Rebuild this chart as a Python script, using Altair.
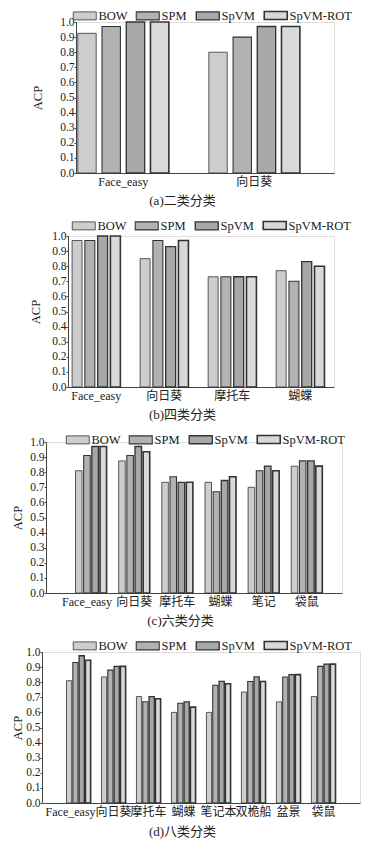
import altair as alt
import pandas as pd

FONT = "Liberation Serif, Noto Sans CJK SC"

methods = ["BOW", "SPM", "SpVM", "SpVM-ROT"]
fills = ["#cdcdcd", "#b2b2b2", "#a8a8a8", "#d9d9d9"]
stroke_widths = [0.8, 1.6, 1.0, 0.8]

# (a) two-class
cats_a = ["Face_easy", "向日葵"]
bow_a = [0.925, 0.80]
spm_a = [0.97, 0.90]
spvm_a = [1.0, 0.97]
rot_a = [1.0, 0.97]

# (b) four-class
cats_b = ["Face_easy", "向日葵", "摩托车", "蝴蝶"]
bow_b = [0.97, 0.85, 0.73, 0.77]
spm_b = [0.97, 0.97, 0.73, 0.70]
spvm_b = [1.0, 0.93, 0.73, 0.83]
rot_b = [1.0, 0.97, 0.73, 0.80]

# (c) six-class
cats_c = ["Face_easy", "向日葵", "摩托车", "蝴蝶", "笔记", "袋鼠"]
bow_c = [0.81, 0.875, 0.733, 0.733, 0.70, 0.84]
spm_c = [0.91, 0.91, 0.77, 0.67, 0.81, 0.875]
spvm_c = [0.97, 0.97, 0.733, 0.745, 0.84, 0.875]
rot_c = [0.97, 0.935, 0.733, 0.77, 0.81, 0.84]

# (d) eight-class
cats_d = ["Face_easy", "向日葵", "摩托车", "蝴蝶", "笔记本", "双桅船", "盆景", "袋鼠"]
bow_d = [0.81, 0.835, 0.705, 0.60, 0.60, 0.735, 0.67, 0.705]
spm_d = [0.93, 0.88, 0.67, 0.66, 0.78, 0.805, 0.835, 0.905]
spvm_d = [0.975, 0.905, 0.705, 0.67, 0.805, 0.835, 0.85, 0.92]
rot_d = [0.945, 0.905, 0.69, 0.635, 0.79, 0.805, 0.85, 0.92]

yticks = [0.0, 0.1, 0.2, 0.3, 0.4, 0.5, 0.6, 0.7, 0.8, 0.9, 1.0]
H = 151
SYM = "M-1,-0.8H3.6V0.8H-1Z"
INDEP = dict(color="independent", x="independent", xOffset="independent",
             strokeWidth="independent")


def panel(cats, series, caption, width, pi, po, align, legend_x, legend_y,
          title_pad, cap_x, cap_y, off_pi, first_shift):
    rows = []
    for i, c in enumerate(cats):
        for m, arr in zip(methods, series):
            rows.append({"cat": c, "method": m, "acp": arr[i]})
    df = pd.DataFrame(rows)
    n = len(cats)
    step = width / (n - pi + 2 * po)
    bw = step * (1 - pi)
    label_offset = {"condition": {"test": "datum.value === 'Face_easy'",
                                  "value": first_shift}, "value": 0}
    return alt.Chart(df).mark_bar(stroke="#333333").encode(
        x=alt.X("cat:N", sort=cats,
                scale=alt.Scale(paddingInner=pi, paddingOuter=po, align=align),
                axis=alt.Axis(title=caption, labelAngle=0, ticks=False,
                              labelOffset=label_offset,
                              labelFont=FONT, labelFontSize=12, labelColor="#222222",
                              labelPadding=3, domainColor="#444444",
                              titleFont=FONT, titleFontSize=13, titleFontWeight="normal",
                              titleColor="#222222", titleX=cap_x, titleY=cap_y,
                              titleAlign="center", titleBaseline="middle")),
        xOffset=alt.XOffset("method:N", sort=methods,
                            scale=alt.Scale(range=[0, bw], paddingInner=off_pi,
                                            paddingOuter=0)),
        y=alt.Y("acp:Q",
                scale=alt.Scale(domain=[0, 1], nice=False),
                axis=alt.Axis(title="ACP", values=yticks, format=".1f", grid=False,
                              tickSize=2, labelPadding=0,
                              tickColor="#444444", domainColor="#444444",
                              labelFont=FONT, labelFontSize=11.5, labelColor="#222222",
                              titleFont=FONT, titleFontSize=12.5, titleFontWeight="normal",
                              titleColor="#222222", titlePadding=title_pad)),
        color=alt.Color("method:N", sort=methods,
                        scale=alt.Scale(domain=methods, range=fills),
                        legend=alt.Legend(orient="none", legendX=legend_x, legendY=legend_y,
                                          direction="horizontal", title=None,
                                          symbolType=SYM, symbolSize=100,
                                          symbolStrokeColor="#333333", symbolStrokeWidth=1,
                                          labelFont=FONT, labelFontSize=12.5,
                                          labelColor="#222222", labelOffset=14,
                                          columnPadding=6)),
        strokeWidth=alt.StrokeWidth("method:N", sort=methods,
                                    scale=alt.Scale(domain=methods, range=stroke_widths),
                                    legend=None),
    ).properties(width=width, height=H)


def spacer(w):
    return alt.Chart(pd.DataFrame({"v": [0]})).mark_text(text=" ", opacity=0).encode(
        x=alt.value(0), y=alt.value(0)
    ).properties(width=w, height=1, view=alt.ViewBackground(stroke=None, fill=None))


pa = panel(cats_a, [bow_a, spm_a, spvm_a, rot_a], "(a)二类分类",
           258, 0.305, 0.137, 0.05, -4, -13, 15, 106, 27, 0.24, 0)
pb = panel(cats_b, [bow_b, spm_b, spvm_b, rot_b], "(b)四类分类",
           266, 0.29, 0.1, 0.3, 3, -17, 9, 114, 27, 0.22, 0)
pc = panel(cats_c, [bow_c, spm_c, spvm_c, rot_c], "(c)六类分类",
           296, 0.28, 0.57, 0.6, 19, -9, 5, 134, 27, 0.2, -4)
pd_ = panel(cats_d, [bow_d, spm_d, spvm_d, rot_d], "(d)八类分类",
            318, 0.31, 0.7, 0.5, 30, -13, 1, 140, 28, 0.18, -8)

row_a = alt.hconcat(spacer(21), pa, spacing=0).resolve_scale(**INDEP)
row_b = alt.hconcat(spacer(19), pb, spacing=0).resolve_scale(**INDEP)
row_c = alt.hconcat(spacer(1), pc, spacing=0).resolve_scale(**INDEP)
row_d = alt.hconcat(spacer(1), pd_, spacing=0).resolve_scale(**INDEP)

chart = alt.vconcat(row_a, row_b, row_c, row_d, spacing=10).resolve_scale(
    **INDEP
).properties(
    padding={"left": 2, "top": 0, "right": 5, "bottom": 5}
).configure_view(stroke=None).configure(background="white")

chart.save("out.html", embed_options={"renderer": "svg", "actions": False})
